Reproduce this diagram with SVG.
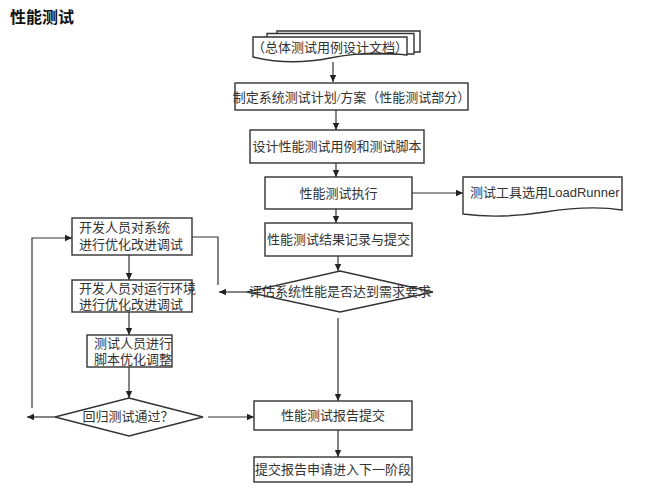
<svg xmlns="http://www.w3.org/2000/svg" width="667" height="500" viewBox="0 0 667 500">
<style>
.box{fill:#fff;stroke:#333;stroke-width:1.4}
.ln{fill:none;stroke:#333;stroke-width:1.2}
.t{font-family:"Liberation Serif","Noto Sans CJK SC",serif;fill:#333;font-size:13px}
.c{text-anchor:middle}
</style>
<defs>
<marker id="ah" markerWidth="8" markerHeight="8" refX="7" refY="4" orient="auto" markerUnits="userSpaceOnUse">
<path d="M0,0.8 L7,4 L0,7.2 Z" fill="#222"/>
</marker>
</defs>
<rect width="667" height="500" fill="#fff"/>
<text x="10" y="23" font-family="'Noto Sans CJK SC',sans-serif" font-size="16" font-weight="bold" fill="#111">性能测试</text>

<g id="connectors">
<path class="ln" d="M333,62 V82" marker-end="url(#ah)"/>
<path class="ln" d="M336,110 V130" marker-end="url(#ah)"/>
<path class="ln" d="M336,163 V177" marker-end="url(#ah)"/>
<path class="ln" d="M412,193 H463" marker-end="url(#ah)"/>
<path class="ln" d="M336,209 V223" marker-end="url(#ah)"/>
<path class="ln" d="M338,256 V271" marker-end="url(#ah)"/>
<path class="ln" d="M247,292 H219" marker-end="url(#ah)"/>
<path class="ln" d="M192,237 H218 V285"/>
<path class="ln" d="M338,318 V401" marker-end="url(#ah)"/>
<path class="ln" d="M129,255 V280" marker-end="url(#ah)"/>
<path class="ln" d="M129,312 V335" marker-end="url(#ah)"/>
<path class="ln" d="M129,367 V398" marker-end="url(#ah)"/>
<path class="ln" d="M55,417 H27" marker-end="url(#ah)"/>
<path class="ln" d="M32,408 V238 H72" marker-end="url(#ah)"/>
<path class="ln" d="M208,417 H254" marker-end="url(#ah)"/>
<path class="ln" d="M338,430 V457" marker-end="url(#ah)"/>
</g>

<g id="doc">
<path class="box" d="M277,31 H420 V52 H277 Z"/>
<path class="box" d="M267,33.5 H414 V54 H267 Z"/>
<path class="box" d="M253,37 H407 V55 Q370,50 330,58 Q290,66 253,57 Z"/>
<text class="t c" x="330" y="52" font-size="12">（总体测试用例设计文档）</text>
</g>

<g id="plan">
<rect class="box" x="235" y="83" width="233" height="27"/>
<text class="t c" x="351.5" y="101.5">制定系统测试计划/方案（性能测试部分）</text>
</g>

<g id="design">
<rect class="box" x="250" y="130" width="174" height="33"/>
<text class="t c" x="337" y="151">设计性能测试用例和测试脚本</text>
</g>

<g id="exec">
<rect class="box" x="265" y="177" width="147" height="32"/>
<text class="t c" x="338.5" y="197.5">性能测试执行</text>
</g>

<g id="tool">
<path class="box" d="M463,177 H622 V210 Q590,205 545,212 Q500,219 463,214 Z"/>
<text class="t" x="470" y="197" font-size="11">测试工具选用<tspan font-family="'Liberation Sans',sans-serif">LoadRunner</tspan></text>
</g>

<g id="record">
<rect class="box" x="265" y="223" width="147" height="33"/>
<text class="t c" x="338.5" y="244">性能测试结果记录与提交</text>
</g>

<g id="eval">
<path class="box" d="M340,271 L433,292 L340,312 L247,292 Z"/>
<text class="t c" x="340" y="296" font-size="11">评估系统性能是否达到需求要求</text>
</g>

<g id="dev1">
<rect class="box" x="72" y="218" width="120" height="37"/>
<text class="t" x="79" y="232">开发人员对系统</text>
<text class="t" x="79" y="249">进行优化改进调试</text>
</g>

<g id="dev2">
<rect class="box" x="72" y="280" width="120" height="32"/>
<text class="t" x="79" y="293">开发人员对运行环境</text>
<text class="t" x="79" y="309">进行优化改进调试</text>
</g>

<g id="tester">
<rect class="box" x="87" y="335" width="85" height="32"/>
<text class="t" x="94" y="348">测试人员进行</text>
<text class="t" x="94" y="364">脚本优化调整</text>
</g>

<g id="regress">
<path class="box" d="M129,398 L203,417 L129,436 L55,417 Z"/>
<text class="t c" x="128" y="421" font-size="10.5">回归测试通过？</text>
</g>

<g id="report">
<rect class="box" x="254" y="401" width="158" height="29"/>
<text class="t c" x="333" y="420">性能测试报告提交</text>
</g>

<g id="next">
<rect class="box" x="254" y="457" width="158" height="25"/>
<text class="t c" x="333" y="474">提交报告申请进入下一阶段</text>
</g>
</svg>
